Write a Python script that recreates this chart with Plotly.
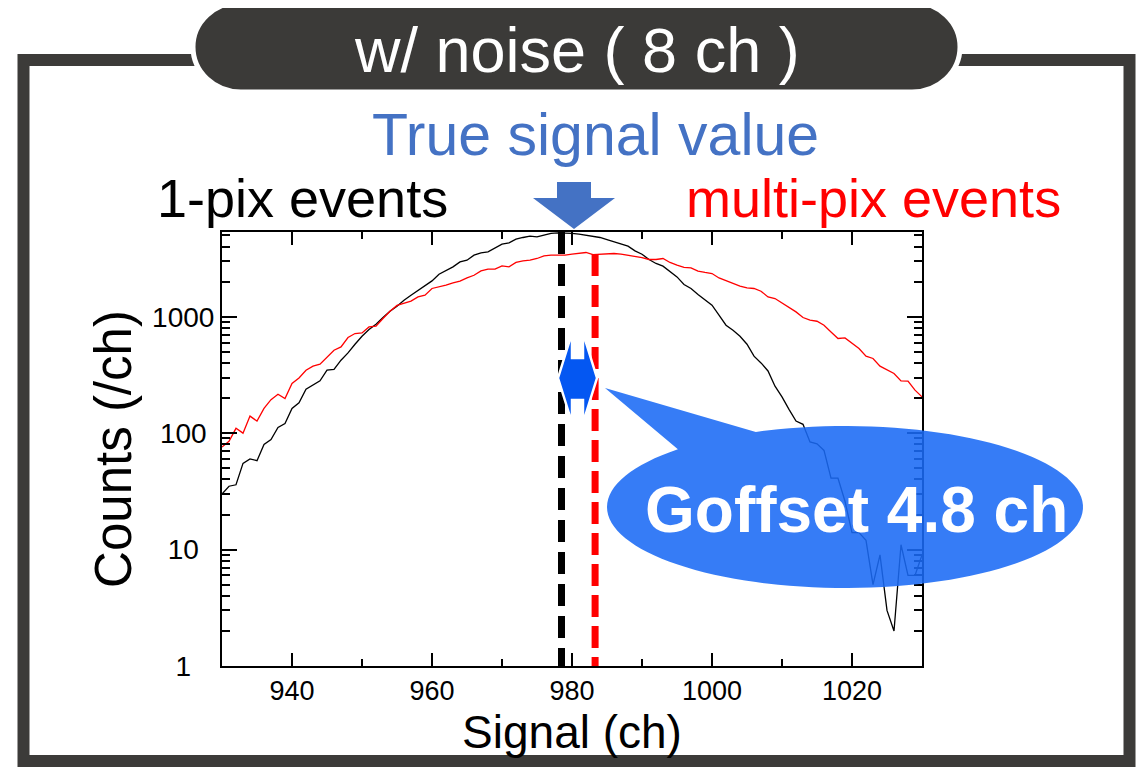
import numpy as np
import plotly.graph_objects as go

# ---------------- data ----------------
channels = list(range(930, 1031))

one_pix_counts = [
    30, 35, 36, 55, 60, 58, 80, 88, 112, 121,
    163, 182, 238, 258, 281, 347, 352, 423, 489, 580,
    680, 776, 862, 984, 1115, 1230, 1386, 1530, 1690, 1866,
    2030, 2318, 2476, 2680, 2958, 3057, 3375, 3533, 3606, 3900,
    4198, 4306, 4634, 4790, 4920, 4850, 5045, 5190, 5250, 5250,
    5190, 5116, 5012, 4920, 4790, 4600, 4395, 4198, 4036, 3675,
    3443, 3100, 2866, 2716, 2427, 2198, 1892, 1747, 1552, 1386,
    1256, 1030, 845, 765, 680, 580, 458, 401, 342, 253,
    205, 160, 127, 119, 84, 81, 71, 41, 41, 26,
    14, 14, 12, 5, 9, 3, 2, 11, 6, 6,
    9,
]

multi_pix_counts = [
    76, 85, 110, 100, 140, 127, 163, 194, 216, 198,
    267, 298, 347, 376, 391, 446, 515, 550, 663, 717,
    726, 817, 828, 966, 1115, 1250, 1314, 1360, 1480, 1530,
    1747, 1803, 1866, 1950, 2018, 2153, 2270, 2476, 2560, 2560,
    2730, 2680, 2924, 3015, 3057, 3162, 3326, 3375, 3375, 3375,
    3443, 3491, 3560, 3420, 3443, 3443, 3491, 3443, 3375, 3264,
    3222, 3100, 3100, 3162, 2924, 2770, 2650, 2630, 2460, 2400,
    2350, 2153, 2030, 1928, 1828, 1770, 1747, 1656, 1480, 1432,
    1314, 1200, 1100, 984, 933, 914, 845, 740, 650, 658,
    589, 533, 458, 438, 376, 347, 325, 281, 280, 234,
    205,
]

one_pix_center = 978.5      # black dashed marker
multi_pix_center = 983.3    # red dashed marker
one_pix_marker_top = 5330
multi_pix_marker_top = 3450

x_tick_vals = [940, 960, 980, 1000, 1020]
x_minor_vals = [950, 970, 990, 1010, 1030]
y_tick_vals = [1, 10, 100, 1000]
y_tick_text = ["1", "10", "100", "1000"]
y_minor_vals = [2, 3, 4, 5, 6, 7, 8, 9, 20, 30, 40, 50, 60, 70, 80, 90,
                200, 300, 400, 500, 600, 700, 800, 900, 2000, 3000, 4000, 5000]

title_text = "w/ noise ( 8 ch )"
callout_text = "Goffset 4.8 ch"

# ---------------- geometry helpers (page pixels -> paper) ----------------
OFF = 8                      # default body margin of the html page
W, H = 1145 - OFF, 767 - OFF
L, R, T, B = 222, 922, 232, 666   # plot area in page pixels
FONT = "Liberation Sans, Arial, Helvetica, sans-serif"


def px(x):
    return (x - L) / (R - L)


def py(y):
    return (B - y) / (B - T)


def pt(x, y):
    return f"{px(x):.5f},{py(y):.5f}"


def polygon_path(points):
    return "M " + " L ".join(pt(x, y) for x, y in points) + " Z"


def rounded_rect_path(x0, y0, x1, y1, rx, ry):
    k = 0.5523
    s = f"M {pt(x0 + rx, y0)} L {pt(x1 - rx, y0)} "
    s += f"C {pt(x1 - rx + k * rx, y0)} {pt(x1, y0 + ry - k * ry)} {pt(x1, y0 + ry)} "
    s += f"L {pt(x1, y1 - ry)} "
    s += f"C {pt(x1, y1 - ry + k * ry)} {pt(x1 - rx + k * rx, y1)} {pt(x1 - rx, y1)} "
    s += f"L {pt(x0 + rx, y1)} "
    s += f"C {pt(x0 + rx - k * rx, y1)} {pt(x0, y1 - ry + k * ry)} {pt(x0, y1 - ry)} "
    s += f"L {pt(x0, y0 + ry)} "
    s += f"C {pt(x0, y0 + ry - k * ry)} {pt(x0 + rx - k * rx, y0)} {pt(x0 + rx, y0)} Z"
    return s


def centered_label(s, widest=4):
    # pad with figure/punctuation spaces so right-aligned labels look centred
    half_digits = widest - len(s)
    return s + "\u2007" * (half_digits // 2) + "\u2008" * (half_digits % 2)


# ---------------- figure ----------------
fig = go.Figure()

fig.add_trace(go.Scatter(x=channels, y=one_pix_counts, mode="lines",
                         line=dict(color="black", width=1.3), name="1-pix events"))
fig.add_trace(go.Scatter(x=channels, y=multi_pix_counts, mode="lines",
                         line=dict(color="#ff0000", width=1.3), name="multi-pix events"))

fig.add_trace(go.Scatter(x=[one_pix_center, one_pix_center], y=[one_pix_marker_top, 1],
                         mode="lines", line=dict(color="black", width=7, dash="22px,10px")))
fig.add_trace(go.Scatter(x=[multi_pix_center, multi_pix_center], y=[multi_pix_marker_top, 1],
                         mode="lines", line=dict(color="#ff0000", width=7, dash="22px,9px")))

shapes = []
# outer frame
shapes.append(dict(type="rect", xref="paper", yref="paper",
                   x0=px(23.5), x1=px(1129.5), y0=py(60), y1=py(761),
                   line=dict(color="#3c3b39", width=12), fillcolor="rgba(0,0,0,0)", layer="below"))
# title pill
shapes.append(dict(type="path", xref="paper", yref="paper",
                   path=rounded_rect_path(193, 2, 960, 92, 48, 45),
                   fillcolor="#3b3a38", line=dict(color="white", width=5)))
# "true signal value" arrow
shapes.append(dict(type="path", xref="paper", yref="paper",
                   path=polygon_path([(557, 182), (591, 182), (591, 198), (615, 198),
                                      (574, 229), (533, 198), (557, 198)]),
                   fillcolor="#4472c4", line=dict(width=0)))
# double-headed arrow
shapes.append(dict(type="path", xref="paper", yref="paper",
                   path=polygon_path([(558, 378), (572, 333), (572, 358), (583, 358), (583, 333),
                                      (597, 378), (583, 423), (583, 400), (572, 400), (572, 423)]),
                   fillcolor="#0457f2", line=dict(color="white", width=2.5)))
# callout bubble (ellipse + tail as one outline)
cx, cy, rx, ry = 845, 507, 238, 81
a0 = np.deg2rad(248.0)
a1 = np.deg2rad(360 + 225.4)
ang = np.linspace(a0, a1, 120)
bubble = [(cx + rx * np.cos(a), cy + ry * np.sin(a)) for a in ang]
bubble.append((605, 388))
shapes.append(dict(type="path", xref="paper", yref="paper",
                   path=polygon_path(bubble),
                   fillcolor="#1a6af5", opacity=0.88, line=dict(width=0)))

annotations = [
    dict(text=title_text, x=px(577), y=py(50), font=dict(size=63, color="white", family=FONT)),
    dict(text="True signal value", x=px(595), y=py(135), font=dict(size=59, color="#4472c4", family=FONT)),
    dict(text="1-pix events", x=px(302), y=py(198), font=dict(size=54, color="black", family=FONT)),
    dict(text="multi-pix events", x=px(873), y=py(198), font=dict(size=54, color="#ff0000", family=FONT)),
    dict(text=f"<b>{callout_text}</b>", x=px(856), y=py(510), font=dict(size=64, color="white", family=FONT)),
]
for a in annotations:
    a.update(xref="paper", yref="paper", xanchor="center", yanchor="middle", showarrow=False)

fig.update_layout(
    width=W, height=H,
    margin=dict(l=L - OFF, r=W - (R - OFF), t=T - OFF, b=H - (B - OFF), pad=0),
    paper_bgcolor="white", plot_bgcolor="white",
    showlegend=False,
    font=dict(family=FONT, color="black"),
    shapes=shapes,
    annotations=annotations,
)

fig.update_xaxes(
    range=[930, 1030], tickvals=x_tick_vals, ticks="inside", ticklen=13, tickwidth=2,
    tickcolor="black",
    minor=dict(ticks="inside", ticklen=7, tickwidth=2, tickcolor="black", tickvals=x_minor_vals),
    showline=True, linewidth=2, linecolor="black", mirror="allticks",
    showgrid=False, zeroline=False,
    tickfont=dict(size=27, family=FONT),
    title=dict(text="Signal (ch)", font=dict(size=46, family=FONT), standoff=0),
)
fig.update_yaxes(
    type="log", range=[0, 3.7275], tickvals=y_tick_vals,
    ticktext=[centered_label(t) for t in y_tick_text],
    ticks="inside", ticklen=15, tickwidth=2, tickcolor="black",
    minor=dict(ticks="inside", ticklen=8, tickwidth=2, tickcolor="black", tickvals=y_minor_vals),
    showline=True, linewidth=2, linecolor="black", mirror="allticks",
    showgrid=False, zeroline=False,
    tickfont=dict(size=28, family=FONT),
    title=dict(text="Counts (/ch)", font=dict(size=51, family=FONT), standoff=4),
)

fig.write_html("out.html")
